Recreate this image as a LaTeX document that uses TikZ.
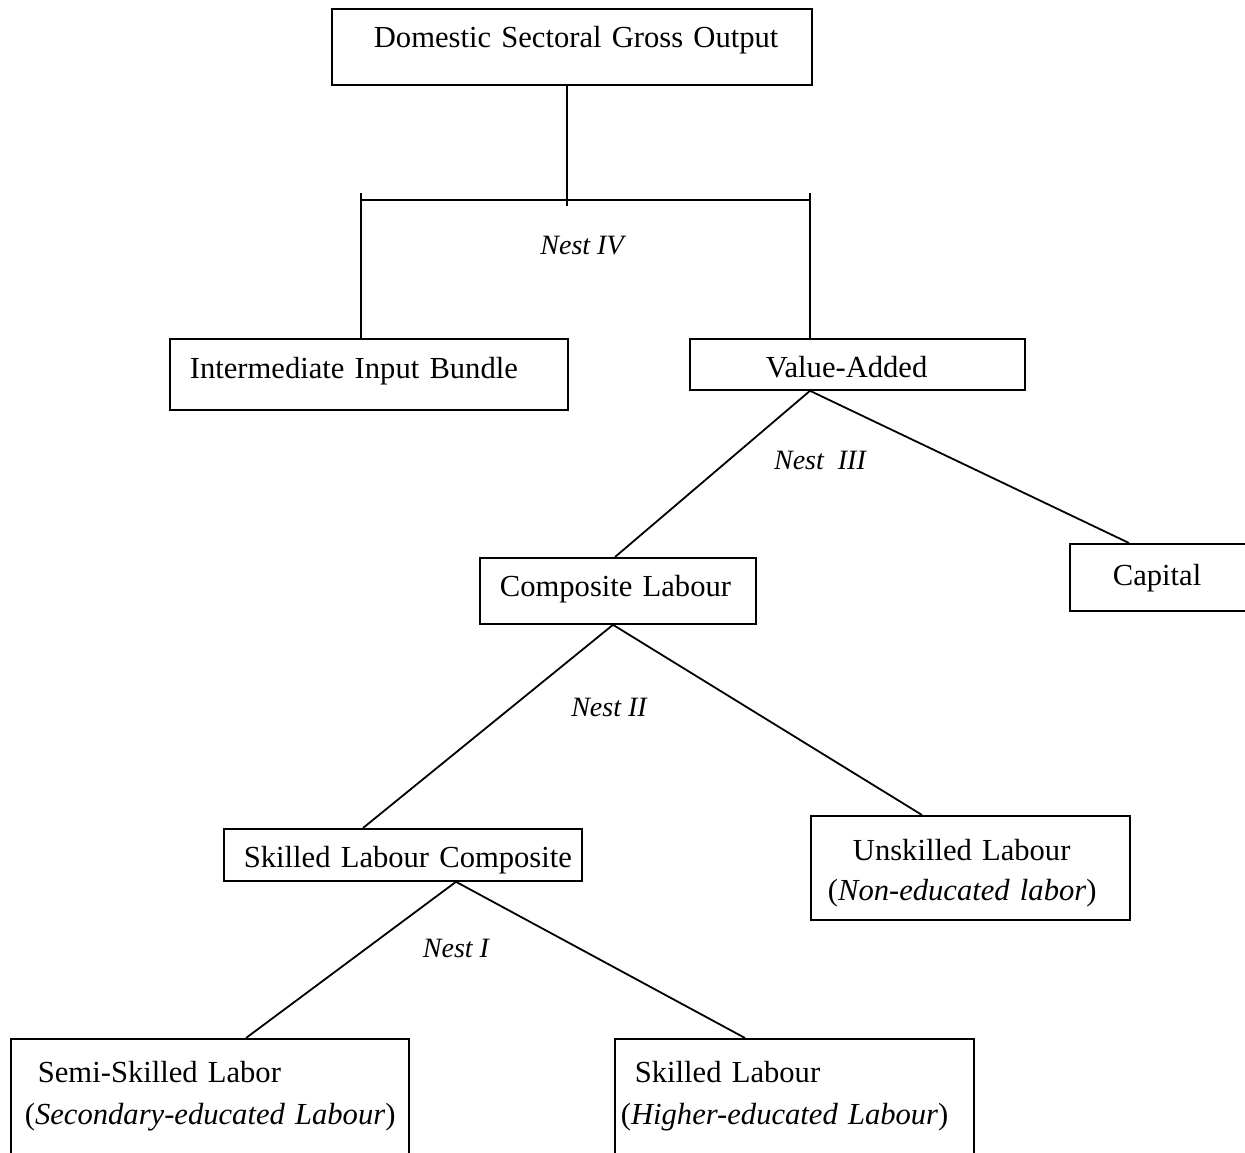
\documentclass[tikz,border=0pt]{standalone}
\usepackage{fontspec}
\setmainfont{Liberation Serif}
\usepackage{tikz}
\usetikzlibrary{positioning,calc}

\newcommand{\boxtxt}[1]{\begin{tabular}[t]{@{}l@{}}#1\end{tabular}}

\begin{document}
\begin{tikzpicture}[
  x=1pt, y=-1pt,
  font=\fontsize{30.6}{40}\selectfont,
  line width=1.8pt,
  blk/.style={
    draw, anchor=north west, inner ysep=0pt,
    align=left, line width=1.8pt
  },
  nest/.style={font=\fontsize{28}{32}\selectfont\itshape, anchor=base, inner sep=0pt}
]
\useasboundingbox (0,0) rectangle (1245,1153);

% ── Nest IV: gross output ──────────────────────────────────────────────
\node[blk, text width=396pt, inner xsep=42pt, text height=39pt, text depth=37pt]
  (gross) at (331,8) {\boxtxt{Domestic Sectoral Gross Output}};
\node[blk, text width=358pt, inner xsep=20pt, text height=40pt, text depth=31pt]
  (input) at (169,338) {\boxtxt{Intermediate Input Bundle}};
\node[blk, text width=183pt, inner xsep=76pt, text height=39pt, text depth=12pt]
  (value) at (689,338) {\boxtxt{Value-Added}};

% ── Nest III: value-added ──────────────────────────────────────────────
\node[blk, text width=236pt, inner xsep=20pt, text height=39pt, text depth=27pt]
  (comp) at (479,557) {\boxtxt{Composite Labour}};
\node[blk, text width=95pt, inner xsep=43pt, text height=42pt, text depth=25pt]
  (capital) at (1069,543) {\boxtxt{Capital}};

% ── Nest II: composite labour ──────────────────────────────────────────
\node[blk, text width=318pt, inner xsep=20pt, text height=39pt, text depth=13pt]
  (slc) at (223,828) {\boxtxt{Skilled Labour Composite}};
\node[blk, text width=285pt, inner xsep=17pt, text height=45pt, text depth=59pt]
  (unsk) at (810,815) {\boxtxt{\hspace*{25pt}Unskilled Labour\\(\textit{Non-educated labor})}};

% ── Nest I: skilled labour ─────────────────────────────────────────────
\node[blk, text width=370pt, inner xsep=14pt, text height=44pt, text depth=88pt]
  (semi) at (10,1038) {\boxtxt{\hspace*{13pt}Semi-Skilled Labor\\[2pt](\textit{Secondary-educated Labour})}};
\node[blk, text width=347pt, inner xsep=6pt, text height=44pt, text depth=88pt]
  (skl) at (614,1038) {\boxtxt{\hspace*{14pt}Skilled Labour\\[2pt](\textit{Higher-educated Labour})}};

% ── Split bar below gross output ───────────────────────────────────────
\coordinate (split) at (567,200);
\coordinate (bl) at (361,200);
\coordinate (br) at (810,200);
\draw (gross.south -| split) -- ([yshift=-6pt]split);
\draw (bl) -- (br);
\draw ([yshift=7pt]bl) -- (bl |- input.north);
\draw ([yshift=7pt]br) -- (br |- value.north);

% ── Branches ───────────────────────────────────────────────────────────
\draw (br |- value.south) -- ([xshift=136pt]comp.north west);
\draw (br |- value.south) -- ([xshift=60pt]capital.north west);
\draw ([xshift=134pt]comp.south west) -- ([xshift=140pt]slc.north west);
\draw ([xshift=134pt]comp.south west) -- ([xshift=112pt]unsk.north west);
\draw ([xshift=233pt]slc.south west) -- ([xshift=236pt]semi.north west);
\draw ([xshift=233pt]slc.south west) -- ([xshift=131pt]skl.north west);

% ── Nest labels ────────────────────────────────────────────────────────
\node[nest] (n4) at (582,254) {Nest IV};
\node[nest] (n3) at (820,469) {Nest\ \ III};
\node[nest] (n2) at (609,716) {Nest II};
\node[nest] (n1) at (456,957) {Nest I};

\end{tikzpicture}
\end{document}
